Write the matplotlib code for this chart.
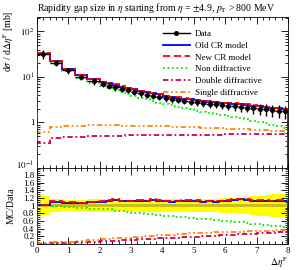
import matplotlib
matplotlib.use('Agg')
import matplotlib.pyplot as plt
import matplotlib.transforms as mtransforms
from matplotlib.lines import Line2D
from matplotlib.ticker import MultipleLocator, LogLocator, NullFormatter
import numpy as np

plt.rcParams['font.family'] = ['Liberation Serif', 'DejaVu Serif']
plt.rcParams['mathtext.fontset'] = 'stix'

# bin edges in delta eta^F
edges = [0.0, 0.4, 0.8, 1.2, 1.6, 2.0, 2.2, 2.4, 2.6, 2.8, 3.0, 3.2, 3.4, 3.6,
         3.8, 4.0, 4.2, 4.4, 4.6, 4.8, 5.0, 5.2, 5.4, 5.6, 5.8, 6.0, 6.2, 6.4,
         6.6, 6.8, 7.0, 7.2, 7.4, 7.6, 7.8, 8.0]

# measured cross section [mb] and relative total error
data = [32.0, 20.5, 13.9, 10.1, 8.1, 7.1, 6.4, 5.9, 5.5, 5.1, 4.75, 4.4, 4.1,
        3.87, 3.65, 3.45, 3.3, 3.15, 3.0, 2.88, 2.78, 2.68, 2.58, 2.5, 2.42,
        2.34, 2.27, 2.2, 2.13, 2.06, 2.0, 1.94, 1.88, 1.82, 1.76]
data_relerr = [0.24, 0.17, 0.15, 0.15, 0.17, 0.16, 0.16, 0.15, 0.15, 0.15, 0.15,
               0.16, 0.16, 0.16, 0.16, 0.17, 0.17, 0.17, 0.17, 0.18, 0.18, 0.18,
               0.18, 0.18, 0.19, 0.19, 0.20, 0.21, 0.22, 0.24, 0.26, 0.28, 0.30,
               0.30, 0.31]
data_statrel = 0.035

# MC predictions [mb]
old_cr = [32.6, 22.6, 15.0, 10.8, 8.8, 7.8, 7.23, 6.79, 6.16, 5.66, 5.32, 4.97,
          4.59, 4.45, 4.12, 3.86, 3.63, 3.50, 3.36, 3.25, 3.11, 2.95, 2.86,
          2.75, 2.69, 2.62, 2.59, 2.55, 2.45, 2.33, 2.26, 2.17, 2.09, 2.04, 1.97]
new_cr = [32.9, 22.8, 15.1, 10.9, 8.9, 7.9, 7.3, 6.85, 6.22, 5.7, 5.36, 5.0,
          4.64, 4.5, 4.17, 3.9, 3.66, 3.54, 3.4, 3.28, 3.15, 2.98, 2.9,
          2.79, 2.72, 2.65, 2.63, 2.58, 2.49, 2.36, 2.29, 2.2, 2.12, 2.07, 2.0]
non_diff = [32.6, 20.1, 13.3, 9.4, 7.45, 6.46, 5.76, 5.07, 4.68, 4.28, 3.85,
            3.52, 3.20, 2.98, 2.74, 2.52, 2.38, 2.24, 2.07, 1.96, 1.83, 1.74,
            1.65, 1.55, 1.48, 1.40, 1.32, 1.25, 1.17, 1.09, 1.04, 0.97, 0.90,
            0.84, 0.77]
double_diff = [0.36, 0.46, 0.48, 0.49, 0.50, 0.50, 0.51, 0.51, 0.51, 0.52, 0.52,
               0.52, 0.52, 0.53, 0.53, 0.53, 0.53, 0.53, 0.54, 0.54, 0.54, 0.54,
               0.54, 0.54, 0.54, 0.55, 0.55, 0.55, 0.55, 0.55, 0.55, 0.55, 0.55,
               0.55, 0.55]
single_diff = [0.61, 0.80, 0.84, 0.85, 0.86, 0.86, 0.86, 0.86, 0.85, 0.85, 0.85,
               0.84, 0.84, 0.83, 0.83, 0.82, 0.81, 0.81, 0.80, 0.79, 0.78, 0.77,
               0.76, 0.75, 0.74, 0.73, 0.72, 0.71, 0.70, 0.69, 0.68, 0.67, 0.66,
               0.65, 0.64]

edges = np.array(edges)
data = np.array(data)
centers = 0.5 * (edges[1:] + edges[:-1])
halfw = 0.5 * (edges[1:] - edges[:-1])
relerr = np.array(data_relerr)

models = [
    ('Old CR model', old_cr, dict(color='#0000ff', ls='-')),
    ('New CR model', new_cr, dict(color='#ff0000', ls=(0, (4, 2)))),
    ('Non diffractive', non_diff, dict(color='#00ee00', ls=(0, (1, 1.5)))),
    ('Double diffractive', double_diff, dict(color='#cc0055', ls=(0, (3, 1.5, 1, 1.5)))),
    ('Single diffractive', single_diff, dict(color='#ff8800', ls=(0, (3, 1.5, 1, 1.5, 1, 1.5)))),
]

fig = plt.figure(figsize=(2.99, 2.70), dpi=100)
ax = fig.add_axes([0.124, 0.378, 0.839, 0.559])
rax = fig.add_axes([0.124, 0.0963, 0.839, 0.2817], sharex=ax)

lw = 1.3
for zo, (name, vals, st) in zip([4, 5, 3, 3, 3], models):
    ax.stairs(vals, edges, lw=lw, zorder=zo, **st)
ax.errorbar(centers, data, yerr=data * relerr, xerr=halfw, fmt='o', ms=2.6,
            color='k', elinewidth=1.0, capsize=0, zorder=6)

ax.set_yscale('log')
ax.set_ylim(0.1, 208)
ax.set_xlim(0, 8)
ax.set_yticks([0.1, 1, 10, 100])
ax.set_yticklabels([r'$10^{-1}$', '1', r'$10^{1}$', r'$10^{2}$'])
ax.yaxis.set_minor_locator(LogLocator(base=10, subs=np.arange(2, 10)))
ax.yaxis.set_minor_formatter(NullFormatter())
ax.set_ylabel(r'd$\sigma$ / d$\Delta\eta^{\mathrm{F}}$ [mb]', loc='top', fontsize=7)
ax.yaxis.set_label_coords(-0.085, 1.045)
ax.set_title(r'Rapidity gap size in $\eta$ starting from $\eta$ = $\pm$4.9, $p_{\mathrm{T}}$ > 800 MeV',
             loc='left', fontsize=7, pad=4)
ax.tick_params(labelbottom=False)

handles = [Line2D([], [], color='k', marker='o', ms=2.6, lw=1.0)]
labels = ['Data']
for name, vals, st in models:
    handles.append(Line2D([], [], lw=lw, **st))
    labels.append(name)
ax.legend(handles, labels, loc='upper left', bbox_to_anchor=(0.5, 0.915),
          frameon=False, fontsize=6.5, handlelength=3.0, handletextpad=0.6,
          labelspacing=0.38, borderpad=0, borderaxespad=0)

# ratio panel
rax.fill_between(edges, 1 - np.append(relerr, relerr[-1]), 1 + np.append(relerr, relerr[-1]),
                 step='post', color='#ffff00', lw=0, zorder=1)
rax.axhspan(1 - data_statrel, 1 + data_statrel, color='#cbbd1a', lw=0, zorder=2)
for zo, (name, vals, st) in zip([4, 5, 3, 3, 3], models):
    rax.stairs(np.array(vals) / data, edges, lw=lw, zorder=zo, **st)
rax.set_ylim(0, 1.98)
rax.set_yticks(np.arange(0, 1.81, 0.2))
rax.set_yticklabels(['0', '0.2', '0.4', '0.6', '0.8', '1', '1.2', '1.4', '1.6', '1.8'])
rax.yaxis.set_minor_locator(MultipleLocator(0.05))
rax.set_ylabel('MC/Data', fontsize=7)
rax.yaxis.set_label_coords(-0.085, 0.5)
rax.set_xlabel(r'$\Delta\eta^{\mathrm{F}}$', loc='right', fontsize=7)
rax.xaxis.set_label_coords(1.0, -0.14)
rax.xaxis.set_major_locator(MultipleLocator(1))
rax.xaxis.set_minor_locator(MultipleLocator(0.2))

for a in (ax, rax):
    a.tick_params(which='both', direction='in', top=True, right=True, labelsize=6.5,
                  width=0.6, pad=2)
    a.tick_params(which='major', length=5)
    a.tick_params(which='minor', length=2.5)
    for s in a.spines.values():
        s.set_linewidth(0.6)

# nudge the lowest main-panel label up so it clears the ratio labels
fig.canvas.draw()
lowest = ax.get_yticklabels()[0]
lowest.set_transform(lowest.get_transform() +
                     mtransforms.ScaledTranslation(0, 2.5 / 72, fig.dpi_scale_trans))

fig.savefig('out.png', dpi=100)
